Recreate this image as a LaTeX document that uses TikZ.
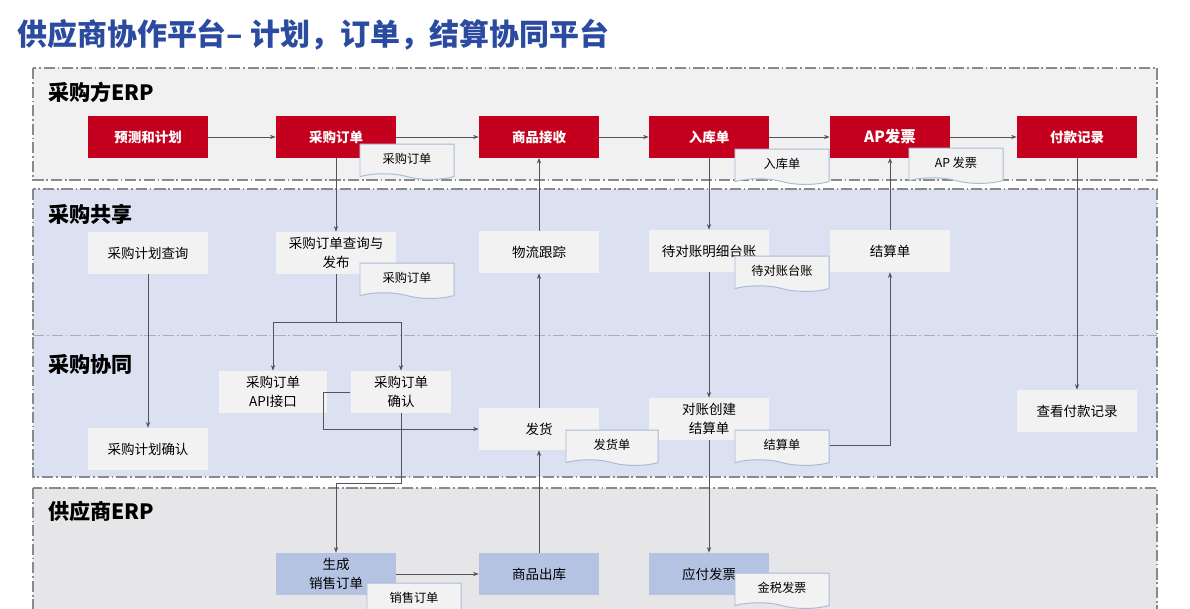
\documentclass[tikz,border=0pt]{standalone}
\usepackage{fontspec}
\setmainfont{Noto Sans CJK SC}
\usetikzlibrary{calc, arrows.meta, shapes.symbols}

\begin{document}
\begin{tikzpicture}[x=0.025cm, y=-0.025cm,
    lane/.style={draw=laneBorder, line width=0.9pt, dash pattern=on 8pt off 2pt on 1.2pt off 2pt},
    laneLabel/.style={anchor=west, inner sep=0pt, font=\bfseries\fontsize{15}{17}\selectfont},
    erpBox/.style={fill=erpRed, text=white, minimum width=3cm, minimum height=1.03cm, inner sep=0pt, font=\bfseries\fontsize{9.6}{11}\selectfont},
    shareBox/.style={fill=boxGray, minimum width=3cm, minimum height=1.05cm, inner sep=0pt, align=center, font=\fontsize{9.6}{13}\selectfont},
    supBox/.style={fill=boxBlue, minimum width=3cm, minimum height=1.05cm, inner sep=0pt, align=center, font=\fontsize{9.6}{13}\selectfont},
    docBox/.style={tape, tape bend top=none, tape bend bottom=out and in, tape bend height=4pt, draw=docBorder, fill=boxGray, line width=0.7pt, minimum width=2.35cm, minimum height=0.88cm, inner sep=0pt, font=\fontsize{8.7}{10}\selectfont},
    conn/.style={draw=lineGray, line width=0.6pt, -{Stealth[length=4pt, width=3pt]}},
    link/.style={draw=lineGray, line width=0.6pt}
]

    \definecolor{titleBlue}{HTML}{2B4BA0}
    \definecolor{erpRed}{HTML}{C4001E}
    \definecolor{laneBorder}{HTML}{8A8A8A}
    \definecolor{laneGray}{HTML}{F1F1F1}
    \definecolor{laneBlue}{HTML}{DCE1F2}
    \definecolor{laneSupplier}{HTML}{E6E6E8}
    \definecolor{boxGray}{HTML}{F2F2F2}
    \definecolor{boxBlue}{HTML}{B5C3E3}
    \definecolor{docBorder}{HTML}{A8BCD8}
    \definecolor{lineGray}{HTML}{50545E}

    % Page and clip
    \useasboundingbox (0,0) rectangle (1190,609);
    \clip (0,0) rectangle (1190,609);
    \fill[white] (0,0) rectangle (1190,609);

    % Title
    \node[anchor=west, inner sep=0pt, text=titleBlue, font=\bfseries\fontsize{21.3}{25}\selectfont] (title) at (17,35) {供应商协作平台– 计划，订单，结算协同平台};

    % Draw lanes
    \draw[lane, fill=laneGray] (33,68) rectangle (1157,180);
    \draw[lane, fill=laneBlue] (33,189) rectangle (1157,477);
    \draw[lane, draw=laneBorder!70, line width=0.7pt] (33,335) -- (1157,335);
    \draw[lane, fill=laneSupplier] (33,488) rectangle (1157,640);

    % Lane labels
    \node[laneLabel] (buyerErp) at (48,92) {采购方ERP};
    \node[laneLabel] (shareLane) at (48,214) {采购共享};
    \node[laneLabel] (collabLane) at (48,364) {采购协同};
    \node[laneLabel] (supplierErp) at (48,511) {供应商ERP};

    % Buyer ERP steps
    \node[erpBox] (forecast) at (148,137) {预测和计划};
    \node[erpBox] (po) at (336,137) {采购订单};
    \node[erpBox] (receive) at (539,137) {商品接收};
    \node[erpBox] (grn) at (709,137) {入库单};
    \node[erpBox, font=\bfseries\fontsize{11}{12}\selectfont] (apInv) at (890,137) {AP发票};
    \node[erpBox] (payRec) at (1077,137) {付款记录};

    % Shared steps
    \node[shareBox] (planQuery) at (148,253) {采购计划查询};
    \node[shareBox] (poPublish) at (336,253) {采购订单查询与\\发布};
    \node[shareBox] (logistics) at (539,252) {物流跟踪};
    \node[shareBox] (ledger) at (709,251) {待对账明细台账};
    \node[shareBox] (settle) at (890,251) {结算单};

    % Collaboration steps
    \node[shareBox, minimum width=2.72cm] (poApi) at (273,392) {采购订单\\API接口};
    \node[shareBox, minimum width=2.52cm] (poConfirm) at (401,392) {采购订单\\确认};
    \node[shareBox] (planConfirm) at (148,449) {采购计划确认};
    \node[shareBox] (ship) at (539,429) {发货};
    \node[shareBox] (settleCreate) at (709,419) {对账创建\\结算单};
    \node[shareBox] (payView) at (1077,411) {查看付款记录};

    % Supplier ERP steps
    \node[supBox] (soGen) at (336,574) {生成\\销售订单};
    \node[supBox] (goodsOut) at (539,574) {商品出库};
    \node[supBox] (payInv) at (709,574) {应付发票};

    % Connectors
    \draw[conn] (forecast.east) -- (po.west);
    \draw[conn] (po.east) -- (receive.west);
    \draw[conn] (receive.east) -- (grn.west);
    \draw[conn] (grn.east) -- (apInv.west);
    \draw[conn] (apInv.east) -- (payRec.west);

    \draw[conn] (planQuery.south) -- (planConfirm.north);
    \draw[conn] (po.south) -- (poPublish.north);
    \coordinate (poSplit) at (336,322);
    \draw[link] (poPublish.south) -- (poSplit);
    \draw[conn] (poSplit) -| (poApi.north);
    \draw[conn] (poSplit) -| (poConfirm.north);
    \draw[conn] (poConfirm.west) -- ++(-27,0) |- (ship.west);
    \coordinate (soBend) at (336,483);
    \draw[conn] (poConfirm.south) |- (soBend) -- (soGen.north);
    \draw[conn] (soGen.east) -- (goodsOut.west);
    \draw[conn] (goodsOut.north) -- (ship.south);
    \draw[conn] (ship.north) -- (logistics.south);
    \draw[conn] (logistics.north) -- (receive.south);

    \draw[conn] (grn.south) -- (ledger.north);
    \draw[conn] (ledger.south) -- (settleCreate.north);
    \draw[conn] (settleCreate.south) -- (payInv.north);
    \draw[conn] (settle.north) -- (apInv.south);
    \draw[conn] (payRec.south) -- (payView.north);

    % Documents
    \node[docBox] (poDoc) at (407,159) {采购订单};
    \node[docBox] (grnDoc) at (782,164) {入库单};
    \node[docBox] (apDoc) at (956,163) {AP 发票};
    \node[docBox] (publishDoc) at (407,278) {采购订单};
    \node[docBox] (ledgerDoc) at (782,271) {待对账台账};
    \node[docBox, minimum width=2.3cm] (shipDoc) at (612,445) {发货单};
    \node[docBox] (settleDoc) at (782,445) {结算单};
    \node[docBox] (soDoc) at (414,598) {销售订单};
    \node[docBox] (taxDoc) at (782,588) {金税发票};

    \draw[conn] (settleDoc.east) -| (settle.south);

\end{tikzpicture}
\end{document}
